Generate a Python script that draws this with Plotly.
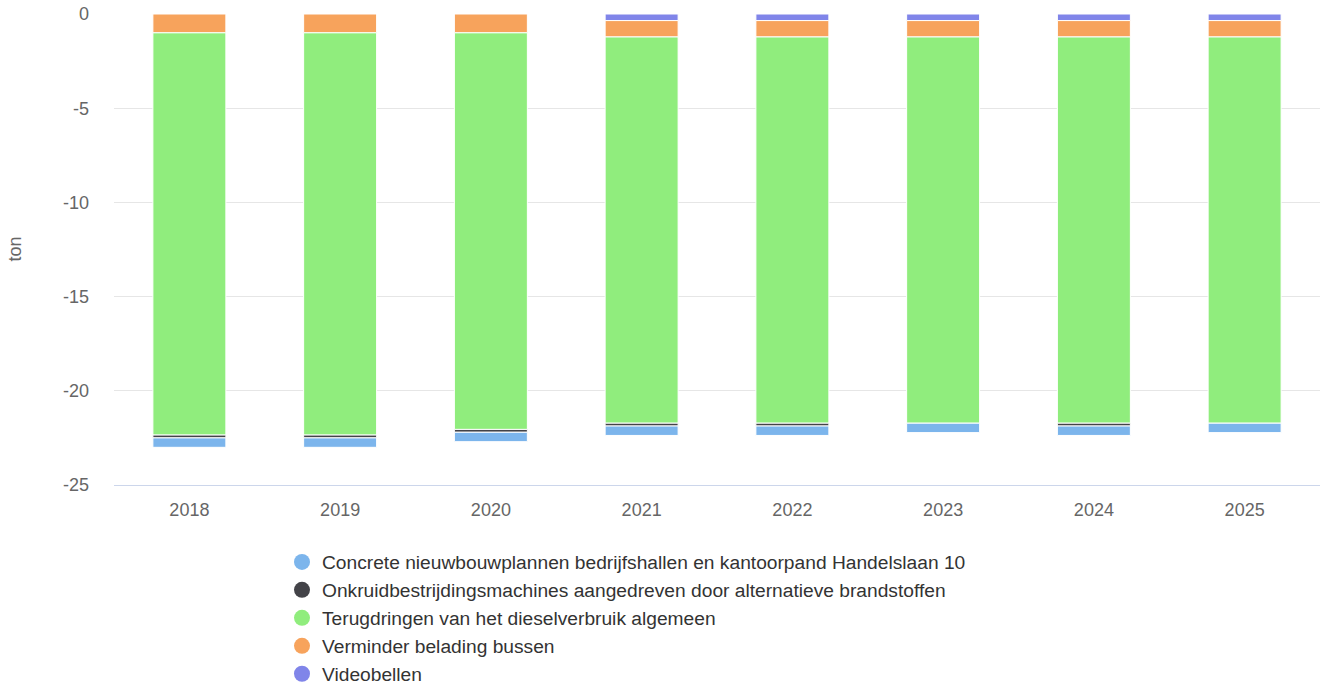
import plotly.graph_objects as go

years = ["2018", "2019", "2020", "2021", "2022", "2023", "2024", "2025"]
videobellen = [None, None, None, -0.35, -0.35, -0.35, -0.35, -0.35]
verminder = [-1.0, -1.0, -1.0, -0.87, -0.87, -0.87, -0.87, -0.87]
terugdringen = [-21.35, -21.35, -21.05, -20.5, -20.5, -20.5, -20.5, -20.5]
onkruid = [-0.15, -0.15, -0.15, -0.15, -0.15, None, -0.15, None]
concrete = [-0.5, -0.5, -0.5, -0.5, -0.5, -0.5, -0.5, -0.5]

names = [
    "Concrete nieuwbouwplannen bedrijfshallen en kantoorpand Handelslaan 10",
    "Onkruidbestrijdingsmachines aangedreven door alternatieve brandstoffen",
    "Terugdringen van het dieselverbruik algemeen",
    "Verminder belading bussen",
    "Videobellen",
]
colors = ["#7cb5ec", "#434348", "#90ed7d", "#f7a35c", "#8085e9"]
series = [concrete, onkruid, terugdringen, verminder, videobellen]

fig = go.Figure()
# stacking order: closest to zero first
for i in [4, 3, 2, 1, 0]:
    fig.add_trace(go.Bar(
        x=years, y=series[i], name=names[i], marker_color=colors[i],
        marker_line_color="white", marker_line_width=1, showlegend=False,
    ))
# legend entries with round markers
for i in range(5):
    fig.add_trace(go.Scatter(
        x=[None], y=[None], mode="markers", name=names[i],
        marker=dict(color=colors[i], size=19, symbol="circle"),
    ))

font = "Liberation Sans, Arial, sans-serif"
fig.update_layout(
    width=1321, height=684,
    barmode="relative", bargap=0.516,
    plot_bgcolor="white", paper_bgcolor="white",
    margin=dict(l=114, r=1, t=13.5, b=199, autoexpand=False),
    font=dict(family=font, size=18, color="#666666"),
    showlegend=True,
    legend=dict(
        orientation="v", x=0.1393, xanchor="left", y=-0.123, yanchor="top",
        font=dict(size=19.2, color="#333333", family=font),
        traceorder="normal", itemsizing="trace",
    ),
    xaxis=dict(
        showgrid=False, showline=True, linecolor="#ccd6eb", linewidth=1,
        ticks="", tickfont=dict(size=18, color="#666666"), automargin=False,
        ticklabelstandoff=8,
    ),
    yaxis=dict(
        range=[-25, 0], tickvals=[0, -5, -10, -15, -20, -25],
        ticktext=["0", "-5", "-10", "-15", "-20", "-25"],
        gridcolor="#e6e6e6", zeroline=False, showline=False,
        tickfont=dict(size=18, color="#666666"), automargin=False,
        ticklabelstandoff=24, ticklabeloverflow="allow",
    ),
    annotations=[dict(
        text="ton", xref="paper", yref="paper", x=-0.0829, y=0.5,
        xanchor="center", yanchor="middle", textangle=-90, showarrow=False,
        font=dict(size=18, color="#666666", family=font),
    )],
)
fig.write_html("out.html", config={"displayModeBar": False},
               post_script="document.body.style.margin='0';")
